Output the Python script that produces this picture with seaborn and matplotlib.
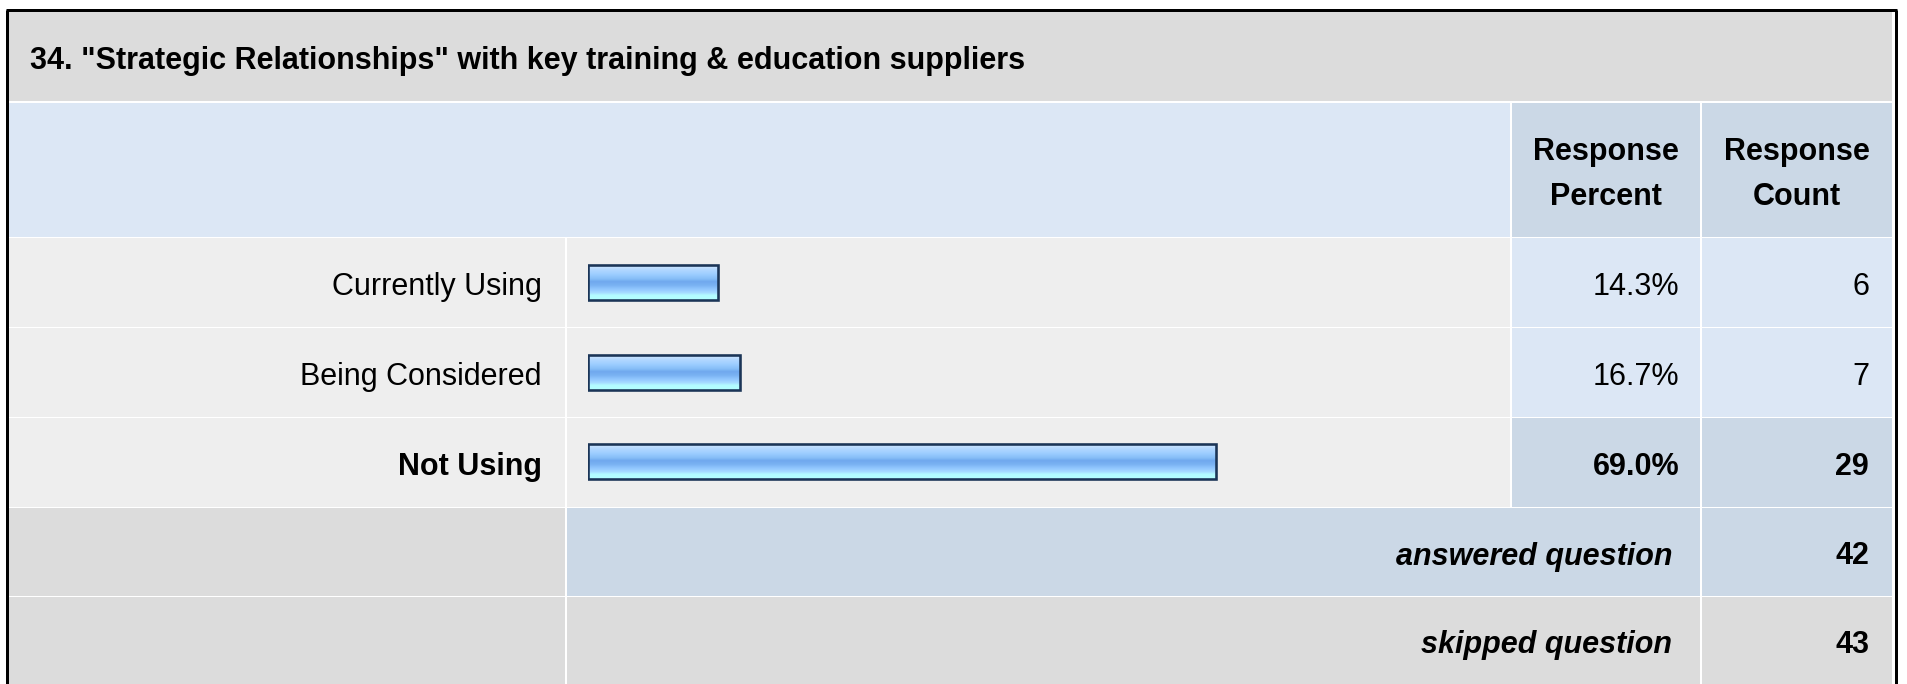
import numpy as np
import pandas as pd
import matplotlib
matplotlib.use("Agg")
import matplotlib.pyplot as plt
import seaborn as sns
from matplotlib.patches import Rectangle
from matplotlib.colors import LinearSegmentedColormap

# ---- survey results -------------------------------------------------------
question = '34. "Strategic Relationships" with key training & education suppliers'
answer_options = ["Currently Using", "Being Considered", "Not Using"]
response_percent = [14.3, 16.7, 69.0]
response_count = [6, 7, 29]
column_headers = ["Response\nPercent", "Response\nCount"]
summary_labels = ["answered question", "skipped question"]
summary_counts = [42, 43]

# ---- styling ---------------------------------------------------------------
W, H = 1907, 684
DPI = 100
PT = 72 / DPI                      # points per pixel
FS = 22                            # font size in points
DY = 4.5                           # baseline nudge for cell texts (px)

GREY = "#dcdcdc"
ROW_BG = "#eeeeee"
LIGHT_BLUE = "#dce7f5"
MID_BLUE = "#cbd8e6"
BAR_EDGE = "#1b3557"

sns.set_theme(style="white")
plt.rcParams["font.family"] = ["Liberation Sans", "DejaVu Sans"]

fig = plt.figure(figsize=(W / DPI, H / DPI), dpi=DPI)
fig.patch.set_facecolor("white")

# background axes in pixel coordinates for the table grid and texts
ax = fig.add_axes([0, 0, 1, 1])
ax.set_xlim(0, W)
ax.set_ylim(H, 0)
ax.axis("off")

# column edges (left, right)
col_label = (9, 565)
col_bar = (567, 1510)
col_pct = (1512, 1700)
col_cnt = (1702, 1892)

# row edges (top, bottom)
row_title = (12, 101)
row_head = (103, 237)
row_tops = [238, 328, 418]
row_h = 88.5
row_answered = (508, 596)
row_skipped = (597, 690)


def cell(x, y, color):
    ax.add_patch(Rectangle((x[0], y[0]), x[1] - x[0], y[1] - y[0],
                           facecolor=color, edgecolor="none", zorder=1))


# title band
cell((col_label[0], col_cnt[1]), row_title, GREY)
ax.text(30, sum(row_title) / 2 + DY, question, fontsize=FS, fontweight="bold",
        ha="left", va="center", color="black", zorder=5)

# header band
cell((col_label[0], col_bar[1]), row_head, LIGHT_BLUE)
cell(col_pct, row_head, MID_BLUE)
cell(col_cnt, row_head, MID_BLUE)
for col, txt in zip([col_pct, col_cnt], column_headers):
    ax.text(sum(col) / 2, sum(row_head) / 2 + DY, txt, fontsize=FS,
            fontweight="bold", ha="center", va="center", linespacing=1.62,
            color="black", zorder=5)

# answer rows
top_idx = int(np.argmax(response_count))
for i, (opt, pct, cnt) in enumerate(zip(answer_options, response_percent,
                                        response_count)):
    y = (row_tops[i], row_tops[i] + row_h)
    yc = sum(y) / 2 + DY
    hi = i == top_idx
    cell(col_label, y, ROW_BG)
    cell(col_bar, y, ROW_BG)
    cell(col_pct, y, MID_BLUE if hi else LIGHT_BLUE)
    cell(col_cnt, y, MID_BLUE if hi else LIGHT_BLUE)
    weight = "bold" if hi else "normal"
    ax.text(542, yc, opt, fontsize=FS, fontweight=weight, ha="right",
            va="center", color="black", zorder=5)
    ax.text(1679, yc, f"{pct:.1f}%", fontsize=FS, fontweight=weight,
            ha="right", va="center", color="black", zorder=5)
    ax.text(1869, yc, f"{cnt}", fontsize=FS, fontweight=weight,
            ha="right", va="center", color="black", zorder=5)

# summary rows
for y, lab, cnt, mid in zip([row_answered, row_skipped], summary_labels,
                            summary_counts, [MID_BLUE, GREY]):
    yc = (sum(y) / 2 if y is row_answered else (y[0] + 684) / 2) + DY
    cell(col_label, y, GREY)
    cell((col_bar[0], col_pct[1]), y, mid)
    cell(col_cnt, y, mid)
    ax.text(1672, yc, lab, fontsize=FS, fontweight="bold", fontstyle="italic",
            ha="right", va="center", color="black", zorder=5)
    ax.text(1869, yc, f"{cnt}", fontsize=FS, fontweight="bold",
            ha="right", va="center", color="black", zorder=5)

# outer frame
ax.plot([7, 7], [10, H + 5], color="black", lw=3 * PT, zorder=6,
        solid_capstyle="butt")
ax.plot([1895.5, 1895.5], [10, H + 5], color="black", lw=3 * PT, zorder=6,
        solid_capstyle="butt")
ax.plot([5.5, 1897], [10, 10], color="black", lw=3 * PT, zorder=6,
        solid_capstyle="butt")

# ---- bars ------------------------------------------------------------------
bar_top, bar_bottom = 237.7, 506.5
bar_left, bar_span = 588, 910          # 0 % .. 100 %
bax = fig.add_axes([bar_left / W, 1 - bar_bottom / H, bar_span / W,
                    (bar_bottom - bar_top) / H])
bax.patch.set_visible(False)

df = pd.DataFrame({"option": answer_options, "percent": response_percent})
sns.barplot(data=df, x="percent", y="option", orient="h", color="#7fb6f2",
            width=0.39, edgecolor=BAR_EDGE, linewidth=2.6 * PT, ax=bax,
            zorder=3)
bax.set_xlim(0, 100)
bax.set_ylim(len(answer_options) - 0.5, -0.5)
bax.axis("off")

# glossy vertical gradient inside each bar
gloss = LinearSegmentedColormap.from_list("gloss", [
    (0.00, "#d3e9ff"), (0.12, "#b3d8ff"), (0.28, "#9accff"),
    (0.40, "#84bcf6"), (0.47, "#6fa8ee"), (0.58, "#7ab2f2"),
    (0.70, "#93c8ff"), (0.80, "#a6dbff"), (0.87, "#b3fcff"),
    (1.00, "#b3ffff")])
grad = gloss(np.linspace(0, 1, 64))[:, :3].reshape(64, 1, 3)
for p in list(bax.patches):
    x0, y0 = p.get_x(), p.get_y()
    w, h = p.get_width(), p.get_height()
    img = bax.imshow(grad, extent=(x0, x0 + w, y0 + h, y0), origin="upper",
                     aspect="auto", interpolation="bilinear", zorder=3.5)
    img.set_clip_path(p)
    p.set_facecolor("none")
    p.set_zorder(4)
bax.set_xlim(0, 100)
bax.set_ylim(len(answer_options) - 0.5, -0.5)

fig.savefig("out.png", dpi=DPI, facecolor="white")
